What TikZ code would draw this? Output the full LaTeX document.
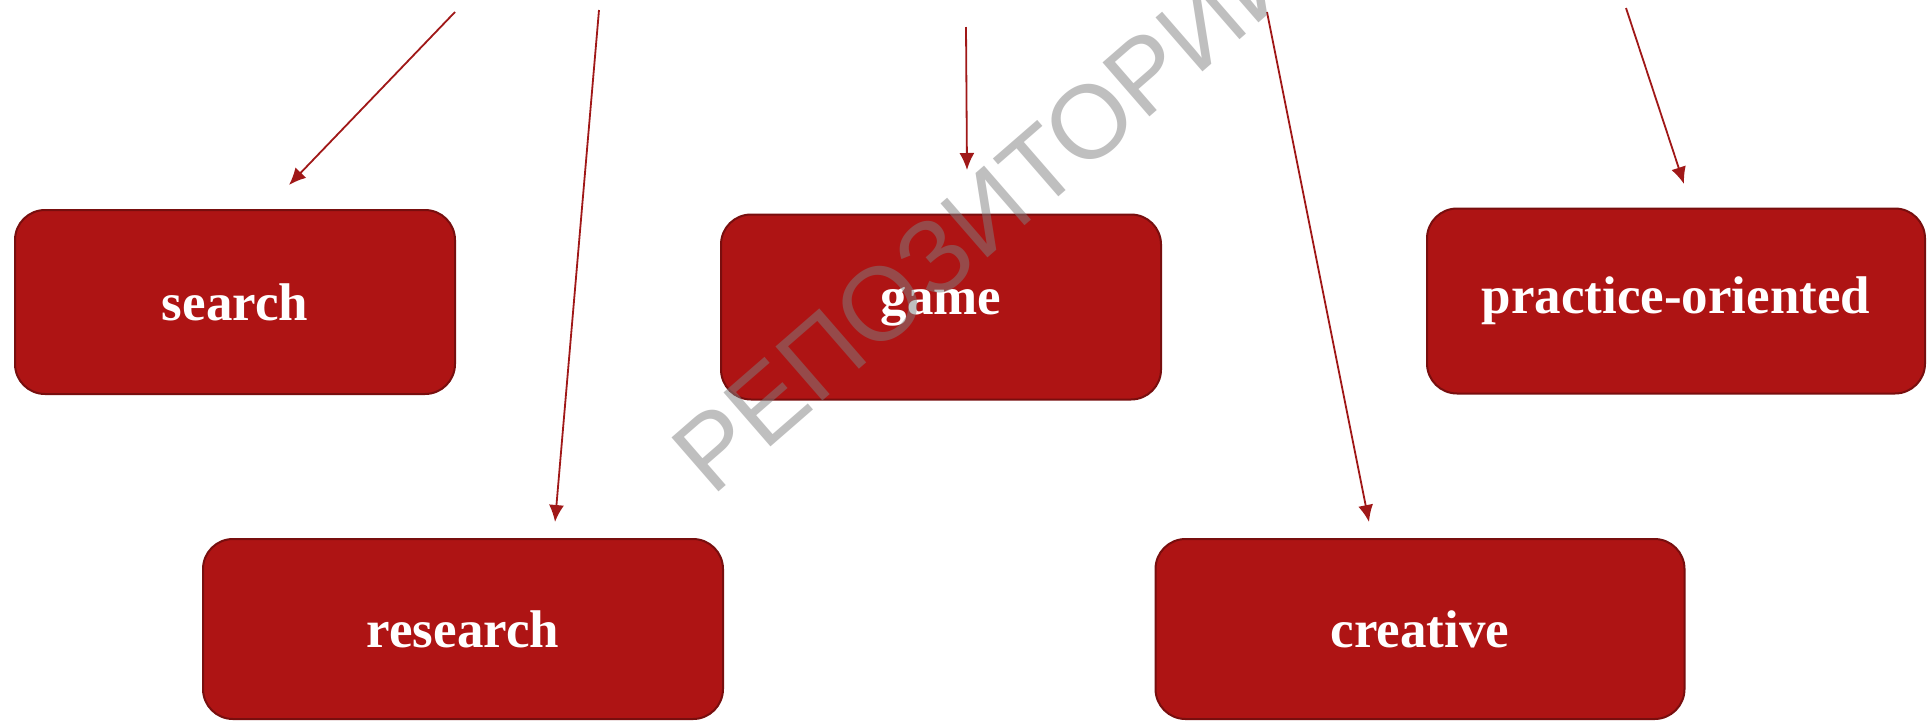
\documentclass[tikz,border=0pt]{standalone}
\usepackage{fontspec}
\setmainfont{Liberation Serif}
\newfontfamily\wmfont{Liberation Sans}
\usetikzlibrary{arrows.meta}
\definecolor{boxred}{RGB}{174,20,20}
\definecolor{boxedge}{RGB}{120,14,14}
\definecolor{arrred}{RGB}{160,24,24}
\tikzset{
  box/.style={draw=boxedge, line width=2pt, fill=boxred, rounded corners=30pt,
    inner sep=0pt, text=white, font=\fontsize{53}{60}\selectfont\bfseries},
  arr/.style={draw=arrred, line width=1.8pt, -{Latex[length=17pt,width=15pt]}},
  wm/.style={text=gray, text opacity=0.5, font=\wmfont\fontsize{104}{110}\selectfont, inner sep=0pt}
}
\begin{document}
\begin{tikzpicture}[x=1pt,y=-1pt]
\useasboundingbox (0,0) rectangle (1929,721);
\fill[white] (0,0) rectangle (1929,721);
% boxes
\node[box, minimum width=440pt, minimum height=184pt] (search) at (235,302) {search};
\node[box, minimum width=440pt, minimum height=185pt] (game) at (941,307) {game};
\node[box, minimum width=498pt, minimum height=185pt] (practice) at (1676,301) {practice-oriented};
\node[box, minimum width=520pt, minimum height=180pt] (research) at (463,629) {research};
\node[box, minimum width=529pt, minimum height=180pt] (creative) at (1420,629) {creative};
% arrow ends
\coordinate (s1) at (455,12);   \coordinate (t1) at (289,185);
\coordinate (s2) at (599,10);   \coordinate (t2) at (555,522);
\coordinate (s3) at (966,27);   \coordinate (t3) at (967,170);
\coordinate (s4) at (1267,12);  \coordinate (t4) at (1369,522);
\coordinate (s5) at (1626,8);   \coordinate (t5) at (1684,184);
\draw[arr] (s1) -- (t1);
\draw[arr] (s2) -- (t2);
\draw[arr] (s3) -- (t3);
\draw[arr] (s4) -- (t4);
\draw[arr] (s5) -- (t5);
% watermark
\node[wm, anchor=base west, rotate=41] (wmark) at (712,498) {РЕПОЗИТОРИЙ};
\end{tikzpicture}
\end{document}
